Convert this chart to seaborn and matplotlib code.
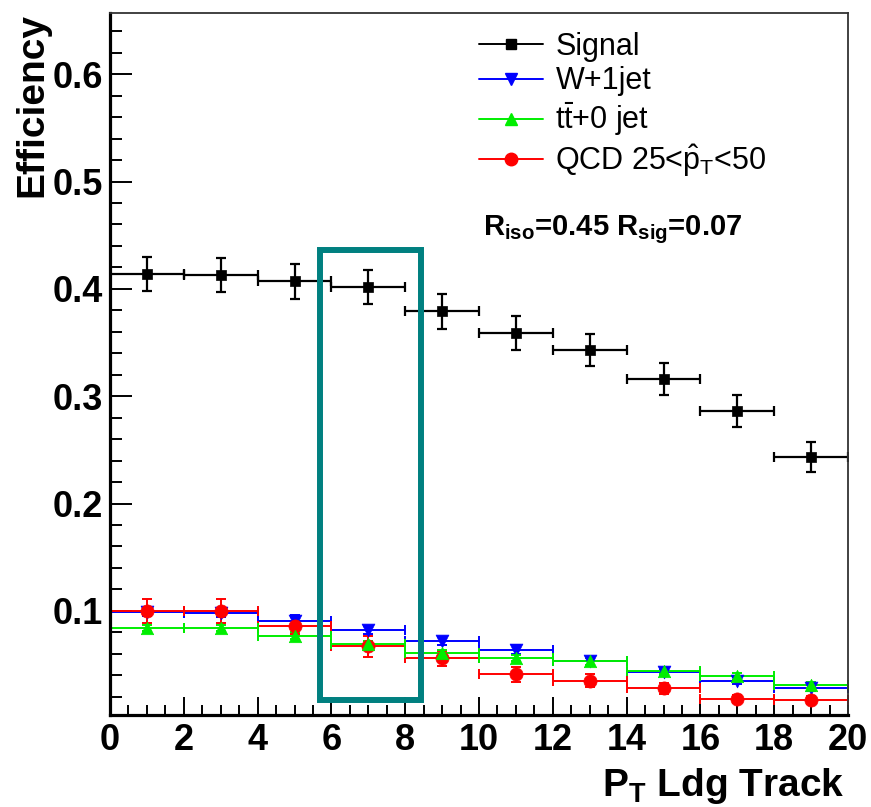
import numpy as np
import pandas as pd
import matplotlib
matplotlib.use("Agg")
import matplotlib.pyplot as plt
from matplotlib.lines import Line2D
from matplotlib.patches import Rectangle
from matplotlib.ticker import MultipleLocator, FixedLocator
import seaborn as sns

# ---- data: efficiency per leading-track pT bin (bin width 2) ----
bin_centers = [1, 3, 5, 7, 9, 11, 13, 15, 17, 19]
bin_half_width = 1.0

signal_eff = [0.414, 0.413, 0.407, 0.402, 0.379, 0.359, 0.343, 0.316, 0.286, 0.243]
signal_err = [0.016, 0.016, 0.016, 0.016, 0.016, 0.016, 0.015, 0.015, 0.015, 0.014]

wjet_eff = [0.099, 0.098, 0.091, 0.082, 0.072, 0.064, 0.053, 0.043, 0.035, 0.028]
wjet_err = [0.004, 0.004, 0.005, 0.004, 0.004, 0.004, 0.003, 0.003, 0.003, 0.003]

ttbar_eff = [0.084, 0.084, 0.077, 0.069, 0.061, 0.056, 0.053, 0.044, 0.039, 0.031]
ttbar_err = [0.003, 0.003, 0.003, 0.003, 0.003, 0.003, 0.003, 0.003, 0.003, 0.003]

qcd_eff = [0.100, 0.100, 0.086, 0.067, 0.056, 0.041, 0.035, 0.028, 0.018, 0.017]
qcd_err = [0.011, 0.011, 0.008, 0.010, 0.007, 0.007, 0.006, 0.005, 0.004, 0.004]

sample_labels = ["Signal", "W+1jet", r"t$\bar{\mathrm{t}}$+0 jet",
                 r"QCD 25<$\hat{\mathrm{p}}_{\mathrm{T}}$<50"]

# ---- styling ----
sns.set_theme(style="ticks")
plt.rcParams["font.family"] = ["Liberation Sans", "DejaVu Sans"]
plt.rcParams["mathtext.fontset"] = "custom"
plt.rcParams["mathtext.rm"] = "Liberation Sans"
plt.rcParams["mathtext.bf"] = "Liberation Sans:bold"
plt.rcParams["mathtext.it"] = "Liberation Sans:italic"
for key in ["text.color", "axes.labelcolor", "xtick.color", "ytick.color",
            "axes.edgecolor"]:
    plt.rcParams[key] = "black"

series = [
    # key, values, errors, color, marker, marker size (pt^2)
    ("W+1jet", wjet_eff, wjet_err, "#0000ff", "v", 85),
    ("QCD", qcd_eff, qcd_err, "#ff0000", "o", 90),
    ("ttbar", ttbar_eff, ttbar_err, "#00ee00", "^", 80),
    ("Signal", signal_eff, signal_err, "black", "s", 60),
]

rows = []
for key, vals, errs, *_ in series:
    for x, y, e in zip(bin_centers, vals, errs):
        rows.append({"sample": key, "pt": x, "eff": y, "err": e})
df = pd.DataFrame(rows)

fig = plt.figure(figsize=(8.71, 8.07), dpi=100)
ax = fig.add_axes([110 / 871, 1 - 715 / 807, 738 / 871, 702 / 807])

for key, vals, errs, color, marker, size in series:
    sub = df[df["sample"] == key]
    lw = 1.6 if key == "Signal" else 1.4
    ax.errorbar(sub["pt"], sub["eff"], xerr=bin_half_width, yerr=sub["err"],
                fmt="none", ecolor=color, elinewidth=lw, capsize=3.5,
                capthick=lw, zorder=2)
    sns.scatterplot(data=sub, x="pt", y="eff", color=color, marker=marker,
                    s=size, edgecolor=color, linewidth=0.5, ax=ax,
                    legend=False, zorder=3)

# highlighted bin region
hl_x0, hl_x1 = 5.68, 8.43
hl_y0, hl_y1 = 0.017, 0.436
ax.add_patch(Rectangle((hl_x0, hl_y0), hl_x1 - hl_x0, hl_y1 - hl_y0,
                       fill=False, edgecolor="#008080", linewidth=4.3,
                       zorder=5))

# axes ranges and ticks
ax.set_xlim(0, 20)
ax.set_ylim(0.003, 0.657)
ax.xaxis.set_major_locator(MultipleLocator(2))
ax.xaxis.set_minor_locator(MultipleLocator(0.5))
ax.yaxis.set_major_locator(FixedLocator([0.1, 0.2, 0.3, 0.4, 0.5, 0.6]))
ax.yaxis.set_minor_locator(MultipleLocator(0.02))
ax.set_xticklabels([str(int(v)) for v in ax.get_xticks()])
ax.set_yticklabels(["0.1", "0.2", "0.3", "0.4", "0.5", "0.6"])

ax.tick_params(axis="both", which="both", direction="in", top=False,
               right=False, color="black", width=1.4)
ax.tick_params(axis="x", which="major", length=13, labelsize=26, pad=6)
ax.tick_params(axis="x", which="minor", length=7)
ax.tick_params(axis="y", which="major", length=16, labelsize=26, pad=5)
ax.tick_params(axis="y", which="minor", length=8.5)
for lab in ax.get_xticklabels() + ax.get_yticklabels():
    lab.set_fontweight("bold")

for side in ["left", "bottom"]:
    ax.spines[side].set_linewidth(2.3)
    ax.spines[side].set_color("black")
for side in ["top", "right"]:
    ax.spines[side].set_visible(True)
    ax.spines[side].set_linewidth(1.3)
    ax.spines[side].set_color("#333333")

ax.set_xlabel(r"P$_{\mathbf{T}}$ Ldg Track", fontsize=28, fontweight="bold",
              loc="right")
ax.xaxis.set_label_coords(0.996, -0.073)
ax.set_ylabel("Efficiency", fontsize=28, fontweight="bold", loc="top")
ax.yaxis.set_label_coords(-0.081, 1.0)

# legend
handles = [
    Line2D([], [], color="black", marker="s", markersize=7, lw=1.4),
    Line2D([], [], color="#0000ff", marker="v", markersize=9, lw=1.4),
    Line2D([], [], color="#00ee00", marker="^", markersize=8.5, lw=1.4),
    Line2D([], [], color="#ff0000", marker="o", markersize=9, lw=1.4),
]
ax.legend(handles, sample_labels, loc="upper left",
          bbox_to_anchor=(0.5, 0.973), frameon=False, fontsize=22,
          handlelength=2.1, handletextpad=0.4, labelspacing=0.14,
          borderpad=0, borderaxespad=0)

ax.text(0.505, 0.684, r"R$_{\mathbf{iso}}$=0.45 R$_{\mathbf{sig}}$=0.07",
        transform=ax.transAxes, fontsize=21, fontweight="bold",
        ha="left", va="baseline")

fig.savefig("out.png", dpi=100)
